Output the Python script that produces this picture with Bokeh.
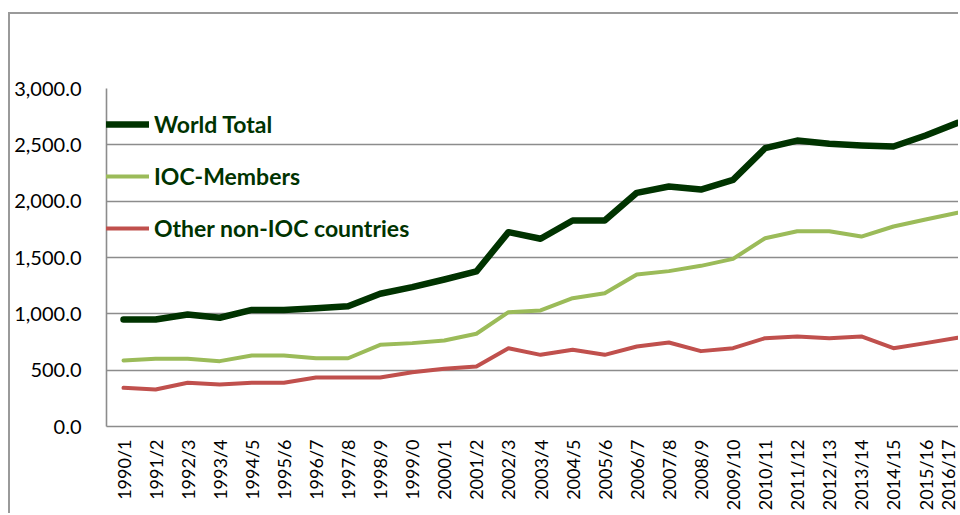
from bokeh.plotting import figure
from bokeh.models import (Range1d, FixedTicker, NumeralTickFormatter, Legend, LegendItem,
                          ColumnDataSource)
from bokeh.embed import file_html
from bokeh.resources import INLINE
import math

years = ["1990/1", "1991/2", "1992/3", "1993/4", "1994/5", "1995/6", "1996/7", "1997/8",
         "1998/9", "1999/0", "2000/1", "2001/2", "2002/3", "2003/4", "2004/5", "2005/6",
         "2006/7", "2007/8", "2008/9", "2009/10", "2010/11", "2011/12", "2012/13",
         "2013/14", "2014/15", "2015/16", "2016/17"]
world_total = [950, 950, 994, 965, 1035, 1035, 1050, 1068, 1178, 1237, 1305, 1376, 1725, 1666,
               1828, 1828, 2074, 2130, 2103, 2189, 2470, 2538, 2509, 2494, 2485, 2583, 2695]
ioc_members = [586, 601, 601, 580, 630, 630, 606, 606, 725, 740, 763, 823, 1015, 1030,
               1139, 1183, 1349, 1379, 1426, 1488, 1671, 1733, 1733, 1686, 1775, 1837, 1897]
other_non_ioc = [343, 328, 388, 373, 388, 388, 435, 435, 435, 482, 512, 533, 695, 636,
                 681, 636, 710, 746, 669, 695, 784, 799, 784, 799, 695, 740, 787]
y_ticks = [0, 500, 1000, 1500, 2000, 2500, 3000]

idx = list(range(len(years)))
src = ColumnDataSource(dict(x=idx, world=world_total, ioc=ioc_members, other=other_non_ioc))

GRID = "#8c8c8c"
FONT = "Lato"

p = figure(width=950, height=501, output_backend="svg", toolbar_location=None,
           x_range=Range1d(-0.53, 26.09), y_range=Range1d(0, 3000),
           min_border_left=96, min_border_top=74, min_border_bottom=89, min_border_right=0,
           background_fill_color="white", border_fill_color="white", outline_line_color=None)
p.styles = {"border-left": "2px solid #9a9a9a", "border-top": "2px solid #9a9a9a",
            "margin-top": "12px", "margin-left": "8px"}

r_world = p.line("x", "world", source=src, line_color="#003300", line_width=6.5,
                 line_join="round", line_cap="round")
r_ioc = p.line("x", "ioc", source=src, line_color="#9BBB59", line_width=4,
               line_join="round", line_cap="round")
r_other = p.line("x", "other", source=src, line_color="#C0504D", line_width=4,
                 line_join="round", line_cap="round")

# axes
p.xaxis.ticker = FixedTicker(ticks=idx)
p.xaxis.major_label_overrides = {i: years[i] for i in idx}
p.xaxis.major_label_orientation = math.pi / 2
p.xaxis.major_label_standoff = 13
p.xaxis.major_label_text_font_size = "18px"
p.yaxis.ticker = FixedTicker(ticks=y_ticks)
p.yaxis.formatter = NumeralTickFormatter(format="0,0.0")
p.yaxis.major_label_standoff = 25
p.yaxis.major_label_text_font_size = "20px"
for ax in (p.xaxis, p.yaxis):
    ax.axis_line_color = GRID
    ax.axis_line_width = 1.6
    ax.major_tick_line_color = None
    ax.minor_tick_line_color = None
    ax.major_tick_out = 0
    ax.major_tick_in = 0
    ax.major_label_text_font = FONT
    ax.major_label_text_color = "#000000"

p.xgrid.grid_line_color = None
p.ygrid.grid_line_color = GRID
p.ygrid.grid_line_width = 1.6
p.ygrid.ticker = FixedTicker(ticks=y_ticks)

legend = Legend(items=[LegendItem(label="World Total", renderers=[r_world]),
                       LegendItem(label="IOC-Members", renderers=[r_ioc]),
                       LegendItem(label="Other non-IOC countries", renderers=[r_other])],
                location=(-4, 184), orientation="vertical",
                padding=0, margin=0, spacing=24,
                glyph_width=47, glyph_height=26, label_height=26, label_standoff=5,
                label_text_font=FONT, label_text_font_style="bold",
                label_text_font_size="23px", label_text_color="#003300",
                background_fill_alpha=0, border_line_color=None)
p.add_layout(legend)

open("out.html", "w").write(file_html(p, INLINE))
